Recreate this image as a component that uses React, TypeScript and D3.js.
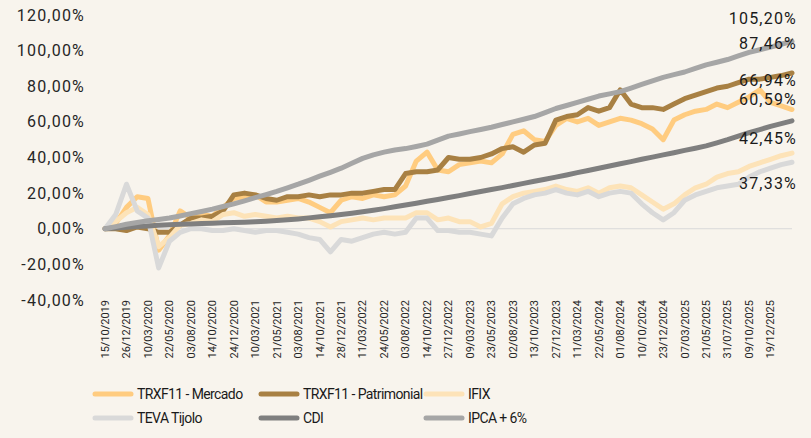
import React from 'react';
import * as d3 from 'd3';

// rótulos do eixo X (um a cada 2 amostras)
const tickLabels = [
  '15/10/2019', '26/12/2019', '10/03/2020', '22/05/2020', '03/08/2020', '14/10/2020', '24/12/2020', '10/03/2021',
  '21/05/2021', '03/08/2021', '14/10/2021', '28/12/2021', '11/03/2022', '24/05/2022', '03/08/2022', '14/10/2022',
  '27/12/2022', '09/03/2023', '23/05/2023', '02/08/2023', '13/10/2023', '27/12/2023', '11/03/2024', '22/05/2024',
  '01/08/2024', '10/10/2024', '23/12/2024', '07/03/2025', '21/05/2025', '31/07/2025', '09/10/2025', '19/12/2025',
];

const seriesNames = ['TRXF11 - Mercado', 'TRXF11 - Patrimonial', 'IFIX', 'TEVA Tijolo', 'CDI', 'IPCA + 6%'];

// retorno acumulado (%)
const mercado = [0, 3, 12, 18, 17, -12, -4, 10, 6, 8, 7, 12, 17, 18, 19, 15, 15, 16, 17, 15,
  12, 9, 16, 18, 17, 19, 18, 19, 24, 38, 43, 33, 32, 36, 37, 38, 37, 42, 53, 55,
  50, 49, 58, 62, 60, 62, 58, 60, 62, 61, 59, 56, 50, 61, 64, 66, 67, 70, 68, 71,
  74, 78, 71, 69, 66.94];
const patrimonial = [0, 0, -1, 1, 0, -2, -2, 2, 6, 6, 7, 10, 19, 20, 19, 17, 16, 18, 18, 19,
  18, 19, 19, 20, 20, 21, 22, 22, 31, 32, 32, 33, 40, 39, 39, 40, 42, 45, 46, 43,
  47, 48, 61, 63, 64, 68, 66, 68, 78, 70, 68, 68, 67, 70, 73, 75, 77, 79, 80, 82,
  84, 84, 85, 86, 87.46];
const ifix = [0, 4, 9, 12, 8, -10, -5, 2, 3, 5, 4, 8, 9, 7, 8, 7, 6, 7, 6, 6,
  4, 1, 4, 5, 6, 5, 6, 6, 6, 9, 9, 5, 6, 4, 4, 1, 3, 14, 18, 20,
  21, 22, 24, 22, 21, 23, 20, 23, 24, 23, 19, 15, 11, 14, 19, 23, 25, 29, 31, 32,
  35, 37, 39, 41, 42.45];
const teva = [0, 8, 25, 10, 6, -22, -7, -2, 0, 0, -1, -1, 0, -1, -2, -1, -1, -2, -3, -5,
  -6, -13, -6, -7, -5, -3, -2, -3, -2, 6, 6, -1, -1, -2, -2, -3, -4, 6, 14, 17,
  19, 20, 22, 20, 19, 21, 18, 20, 21, 20, 14, 9, 5, 9, 16, 19, 21, 23, 24, 25,
  29, 32, 34, 36, 37.33];
const cdi = [0, 0.4, 0.8, 1.2, 1.6, 1.9, 2.2, 2.5, 2.7, 2.9, 3.1, 3.3, 3.5, 3.7, 3.9, 4.2, 4.6, 5, 5.5, 6.1,
  6.7, 7.3, 8, 8.7, 9.5, 10.4, 11.3, 12.3, 13.3, 14.3, 15.4, 16.4, 17.5, 18.6, 19.8, 20.9, 22, 23.1, 24.3, 25.5,
  26.7, 27.8, 29, 30.2, 31.5, 32.7, 34, 35.2, 36.5, 37.7, 39, 40.2, 41.5, 42.7, 44, 45.2, 46.5, 48.2, 50, 52,
  54, 55.7, 57.5, 59, 60.59];
const ipca = [0, 1.2, 2.5, 3.5, 4.5, 5.2, 6, 7.2, 8.5, 9.7, 11, 12.5, 14, 15.7, 17.5, 19.2, 21, 23, 25, 27.2,
  29.5, 31.7, 34, 36.8, 39.5, 41.5, 43, 44.2, 45, 46.2, 47.5, 49.8, 52, 53.2, 54.5, 55.7, 57, 58.5, 60, 61.5,
  63, 65.2, 67.5, 69.2, 71, 72.7, 74.5, 75.7, 77, 79, 81, 83, 85, 86.5, 88, 90, 92, 93.5, 95, 97,
  99, 100.5, 102, 103.6, 105.2];

const colors = ['#ffcc80', '#a88043', '#fde3b8', '#d9d9d9', '#7f7f7f', '#a6a6a6'];
// deslocamento (px) dos rótulos finais em relação ao fim da linha
const labelDy = [-29, -30, -15, 21, -21, -23];

const W = 811;
const H = 438;
const font = 'Roboto, sans-serif';

const fmt = (v: number) => v.toFixed(2).replace('.', ',') + '%';

export default function App() {
  const allSeries = [mercado, patrimonial, ifix, teva, cdi, ipca];
  const n = mercado.length;

  const x = d3.scaleLinear().domain([0, n - 1]).range([105, 792]);
  const y = d3.scaleLinear().domain([-40, 120]).range([300, 15]);

  const line = d3.line<number>()
    .x((d, i) => x(i))
    .y((d) => y(d));

  const yTicks = d3.range(-40, 121, 20);

  const legendCols = [95, 261, 426];
  const legendRows = [394, 418];

  return (
    <svg width={W} height={H} style={{ position: 'absolute', left: 0, top: 0 }}>
      <rect width={W} height={H} fill="#f8f4ed" />

      {/* eixo Y */}
      {yTicks.map((t) => (
        <text key={t} x={85} y={y(t)} dy="0.35em" textAnchor="end" letterSpacing={1.2}
          fontFamily={font} fontSize={16} fill="#262626">{fmt(t)}</text>
      ))}

      {/* linha do zero */}
      <line x1={x(0)} x2={x(n - 1)} y1={y(0)} y2={y(0)} stroke="#d9d9d9" strokeWidth={1} />

      {/* eixo X */}
      {tickLabels.map((lab, k) => (
        <text key={lab} transform={`translate(${x(k * 2)},300) rotate(-90)`} dy="0.35em"
          textAnchor="end" fontFamily={font} fontSize={11} fill="#262626">{lab}</text>
      ))}

      {/* séries */}
      {allSeries.map((s, i) => (
        <path key={seriesNames[i]} d={line(s) || ''} fill="none" stroke={colors[i]}
          strokeWidth={5} strokeLinejoin="round" strokeLinecap="round" />
      ))}

      {/* rótulos finais */}
      {allSeries.map((s, i) => (
        <text key={'l' + i} x={797} y={y(s[n - 1]) + labelDy[i]} dy="0.35em" textAnchor="end" letterSpacing={1.2}
          fontFamily={font} fontSize={16} fill="#1a1a1a">{fmt(s[n - 1])}</text>
      ))}

      {/* legenda */}
      {seriesNames.map((name, i) => {
        const cx = legendCols[i % 3];
        const cy = legendRows[Math.floor(i / 3)];
        return (
          <g key={'lg' + i}>
            <line x1={cx} x2={cx + 36} y1={cy} y2={cy} stroke={colors[i]} strokeWidth={5} strokeLinecap="round" />
            <text x={cx + 42} y={cy} dy="0.35em" fontFamily={font} letterSpacing={-0.6}
              fontSize={14} fill="#1a1a1a">{name}</text>
          </g>
        );
      })}
    </svg>
  );
}
